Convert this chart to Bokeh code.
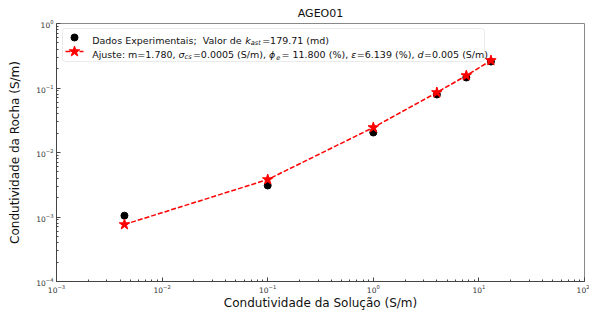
import math
from bokeh.plotting import figure
from bokeh.models import Label, BoxAnnotation, FixedTicker, Range1d
from bokeh.embed import file_html
from bokeh.resources import INLINE

# ---------------- data ----------------
title_text = "AGEO01"
x_axis_label = "Condutividade da Solução (S/m)"
y_axis_label = "Condutividade da Rocha (S/m)"
sol_cond = [0.0044, 0.10, 1.0, 4.0, 7.6, 13.0]
rock_exp = [1.05e-3, 3.08e-3, 0.0204, 0.0793, 0.1455, 0.257]
rock_fit = [7.65e-4, 3.81e-3, 0.0244, 0.0852, 0.156, 0.267]
x_lim = [1e-3, 1e2]
y_lim = [1e-4, 1e0]
x_decades = [-3, -2, -1, 0, 1, 2]
y_decades = [-4, -3, -2, -1, 0]
legend_exp_parts = [("Dados Experimentais;  ", "n"), ("Valor de ", "n"), ("k", "i"),
                    ("ast", "sub"), ("=179.71 (md)", "n")]
legend_fit_parts = [("Ajuste: m=1.780, ", "n"), ("σ", "i"), ("cs", "sub"),
                    ("=0.0005 (S/m), ", "n"), ("ϕ", "i"), ("e", "sub"),
                    ("= 11.800 (%), ", "n"), ("ε", "i"), ("=6.139 (%), ", "n"),
                    ("d", "i"), ("=0.005 (S/m)", "n")]

# ---------------- layout ----------------
BL, BR, BT, BB = 56, 5, 23, 37
FW, FH = 528, 258
W, H = BL + FW + BR, BT + FH + BB
FONT = "DejaVu Sans"

p = figure(width=W, height=H, x_axis_type="log", y_axis_type="log",
           x_range=Range1d(*x_lim), y_range=Range1d(*y_lim),
           output_backend="svg", toolbar_location=None,
           min_border_left=BL, min_border_right=BR, min_border_top=BT, min_border_bottom=BB)

p.title.text = title_text
p.title.align = "center"
p.title.text_font = FONT
p.title.text_font_size = "11px"
p.title.text_font_style = "normal"
p.title.text_color = "#111111"
p.title.standoff = 7

p.grid.visible = False
p.outline_line_color = "#888888"
p.background_fill_color = "white"
p.border_fill_color = "white"

minor = lambda decs: [k * 10.0 ** d for d in decs[:-1] for k in range(2, 10)]
p.xaxis.ticker = FixedTicker(ticks=[10.0 ** d for d in x_decades], minor_ticks=minor(x_decades))
p.yaxis.ticker = FixedTicker(ticks=[10.0 ** d for d in y_decades], minor_ticks=minor(y_decades))
p.xaxis.axis_label = x_axis_label
p.yaxis.axis_label = y_axis_label
for ax in (p.xaxis[0], p.yaxis[0]):
    ax.major_tick_in = 4
    ax.major_tick_out = 0
    ax.minor_tick_in = 2
    ax.minor_tick_out = 0
    ax.axis_line_color = "#444444"
    ax.major_tick_line_color = "#444444"
    ax.minor_tick_line_color = "#444444"
    ax.major_label_text_font = FONT
    ax.major_label_text_font_size = "7.5px"
    ax.major_label_text_color = "#333333"
    ax.axis_label_text_font = FONT
    ax.axis_label_text_font_size = "12px"
    ax.axis_label_text_font_style = "normal"
    ax.axis_label_text_color = "#111111"
p.xaxis.major_label_standoff = 2
p.xaxis.axis_label_standoff = 0
p.yaxis.major_label_standoff = 3
p.yaxis.axis_label_standoff = 11

DASH = "5 2"

# ---------------- data glyphs ----------------
p.scatter(sol_cond, rock_exp, marker="circle", size=7, fill_color="black", line_color="black")
p.line(sol_cond, rock_fit, line_color="red", line_width=1.5, line_dash=DASH)
p.scatter(sol_cond, rock_fit, marker="star", size=11, fill_color="red", line_color="red")

# ---------------- legend (positions in frame pixels from left / from top) ----------------
def fx(px):
    a, b = math.log10(x_lim[0]), math.log10(x_lim[1])
    return 10 ** (a + (b - a) * px / FW)

def fy(py_top):
    a, b = math.log10(y_lim[0]), math.log10(y_lim[1])
    return 10 ** (b - (b - a) * py_top / FH)

box = BoxAnnotation(left=fx(6), right=fx(428), top=fy(5), bottom=fy(38),
                    fill_color="white", fill_alpha=0.8,
                    line_color="#b8b8b8", line_width=1, border_radius=3)
p.add_layout(box)

r1 = p.scatter([fx(18)], [fy(14)], marker="circle", size=7, fill_color="black", line_color="black")
r2 = p.line([fx(9), fx(27)], [fy(28), fy(28)], line_color="red", line_width=1.5, line_dash=DASH)
r3 = p.scatter([fx(18)], [fy(28)], marker="star", size=11, fill_color="red", line_color="red")
for r in (r1, r2, r3):
    r.level = "overlay"

ADV = {' ': 651, '%': 1946, '(': 799, ')': 799, ',': 651, '.': 651, '/': 690, ':': 690,
       ';': 690, '=': 1716, 'A': 1401, 'D': 1577, 'E': 1294, 'S': 1300, 'V': 1401,
       'a': 1255, 'c': 1126, 'd': 1300, 'e': 1260, 'i': 569, 'j': 569, 'k': 1186, 'l': 569,
       'm': 1995, 'n': 1298, 'o': 1253, 'p': 1300, 'r': 842, 's': 1067, 't': 803,
       'u': 1298, 'x': 1212, 'σ': 1300, 'ϕ': 1530, 'ε': 1100}
for dch in "0123456789":
    ADV[dch] = 1303

FS = 9.5
PAD_AFTER = {"sub": 1.2, "i": 0.5, "n": 0.0}

def place(parts, x0, base_top):
    x = x0
    prev = "n"
    for txt, kind in parts:
        if kind == "n":
            x += PAD_AFTER[prev]
        size = FS * 0.7 if kind == "sub" else FS
        y = base_top + 2.5 if kind == "sub" else base_top
        p.add_layout(Label(x=fx(x), y=fy(y), text=txt,
                           text_font=FONT, text_font_size=f"{size}px",
                           text_font_style="normal" if kind == "n" else "italic",
                           text_color="#111111", text_baseline="alphabetic",
                           text_align="left"))
        x += sum(ADV.get(ch, 1200) for ch in txt) / 2048.0 * size
        prev = kind

place(legend_exp_parts, 35.7, 17)
place(legend_fit_parts, 35.7, 31.3)

open("out.html", "w").write(file_html(p, INLINE))
